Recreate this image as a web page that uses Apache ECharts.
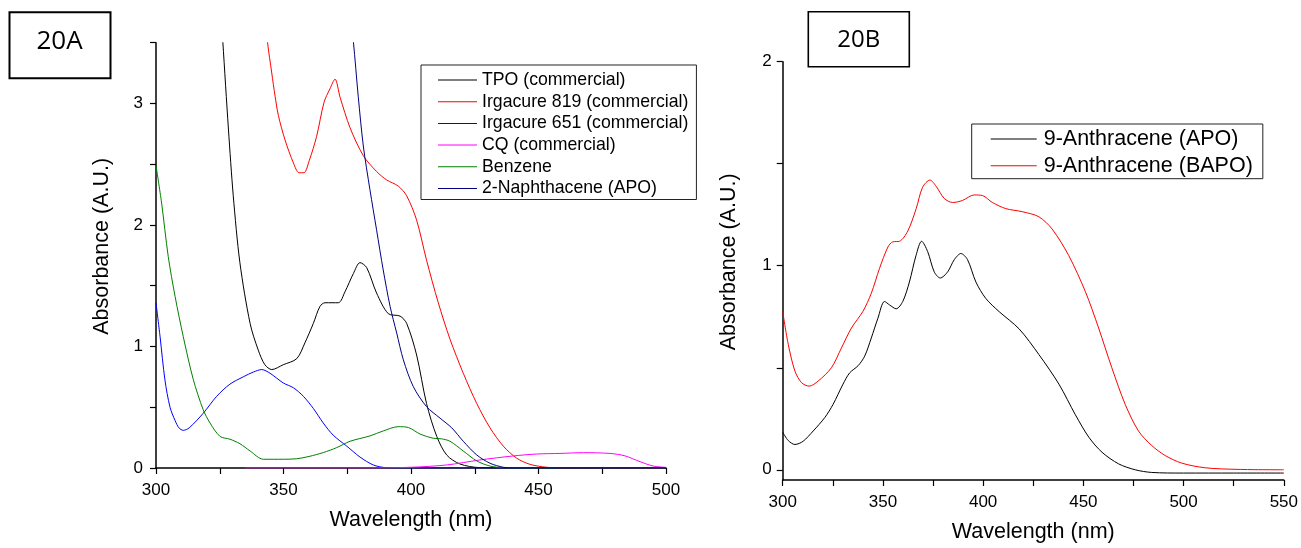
<!DOCTYPE html>
<html>
<head>
<meta charset="utf-8">
<script src="https://cdn.jsdelivr.net/npm/echarts@6/dist/echarts.min.js"></script>
<style>
html,body{margin:0;padding:0;background:#fff;}
#c{width:1301px;height:548px;}
</style>
</head>
<body>
<div id="c"></div>
<script>
// ---------- Panel 20A data ----------
const tpoX = [318, 322, 326.2, 328.4, 330.3, 332.9, 336.9, 340.1, 342.7, 345.4, 349.9, 355.2, 358.4, 361.7, 364.3, 366.3, 371.5, 374.1, 377.4, 380, 382.6, 386.5, 391.1, 395.7, 398.3, 402.2, 406.1, 410.1, 414, 419.2, 427, 440, 460, 500];
const tpoY = [6.2, 4.9, 3.51, 2.79, 2.24, 1.69, 1.19, 0.97, 0.85, 0.81, 0.85, 0.90, 1.03, 1.19, 1.33, 1.36, 1.36, 1.45, 1.60, 1.69, 1.65, 1.44, 1.27, 1.25, 1.19, 0.93, 0.53, 0.26, 0.107, 0.033, 0.003, 0, 0, 0];

const irg819X = [338, 341, 343.7, 345.4, 346.7, 348, 350.6, 353.9, 356.1, 358, 360.1, 363, 365.9, 368.2, 370.2, 372.2, 376.1, 381.3, 386.5, 390.5, 395, 398.3, 402.2, 406.1, 410.7, 415.3, 420.5, 425.8, 431, 436.2, 441.5, 446.7, 453.2, 460, 480, 500];
const irg819Y = [5.0, 4.1, 3.51, 3.25, 3.06, 2.90, 2.70, 2.51, 2.43, 2.43, 2.53, 2.73, 3.01, 3.12, 3.20, 3.05, 2.80, 2.57, 2.44, 2.37, 2.32, 2.24, 2.04, 1.71, 1.36, 1.06, 0.78, 0.53, 0.33, 0.18, 0.08, 0.03, 0.006, 0, 0, 0];

const irg651X = [300, 301.6, 303.5, 305.5, 307.5, 309, 310.7, 313, 318.5, 323.8, 329, 334.2, 338.2, 341.5, 344.7, 349.9, 353.9, 357.8, 361.7, 365.6, 369.5, 374.8, 380, 385.2, 390, 395, 450, 500];
const irg651Y = [1.36, 1.08, 0.725, 0.50, 0.39, 0.33, 0.31, 0.33, 0.45, 0.59, 0.69, 0.75, 0.79, 0.81, 0.78, 0.70, 0.66, 0.59, 0.49, 0.37, 0.27, 0.18, 0.09, 0.025, 0.003, 0, 0, 0];

const cqX = [335, 380, 400, 414, 427, 440, 449.3, 458.4, 467.6, 478, 483.9, 489.8, 495, 500];
const cqY = [0, 0, 0.006, 0.025, 0.066, 0.099, 0.115, 0.12, 0.126, 0.12, 0.10, 0.052, 0.016, 0.005];

const benzeneX = [300, 302.2, 304.8, 307.5, 310.7, 314.6, 318.5, 321.2, 325.1, 329, 332.9, 336.9, 342.1, 349.9, 355.2, 360, 365.6, 370.9, 376.1, 383.9, 389.1, 395, 399, 403.5, 408.7, 412, 415.3, 420.5, 425.8, 431, 436, 450, 500];
const benzeneY = [2.49, 2.18, 1.74, 1.41, 1.08, 0.73, 0.48, 0.37, 0.26, 0.237, 0.20, 0.14, 0.072, 0.072, 0.076, 0.095, 0.127, 0.168, 0.22, 0.264, 0.305, 0.34, 0.333, 0.28, 0.245, 0.24, 0.22, 0.14, 0.058, 0.016, 0.003, 0, 0];

const naphX = [372, 377.4, 379.3, 381.3, 383.9, 386.5, 389.1, 391.8, 394.4, 397, 400.9, 406.1, 411.4, 416, 420.5, 425.8, 431, 436.2, 440, 500];
const naphY = [4.6, 3.51, 3.06, 2.65, 2.29, 1.96, 1.63, 1.33, 1.11, 0.89, 0.67, 0.505, 0.41, 0.33, 0.22, 0.107, 0.039, 0.006, 0, 0];

// ---------- Panel 20B data ----------
const apoX = [300, 302.8, 306.1, 310.2, 315.2, 321, 325.1, 330.1, 333.4, 337.6, 340.9, 344.2, 347.5, 350.8, 353.3, 356.6, 359.9, 363.2, 366.5, 369.3, 372.3, 375.6, 378.6, 382.3, 385.6, 388.9, 392.2, 396.4, 401.3, 408, 418, 427.8, 437.8, 446, 452.7, 459.3, 467.6, 475.9, 484.1, 500, 525, 550];
const apoY = [0.184, 0.143, 0.124, 0.14, 0.19, 0.256, 0.32, 0.42, 0.475, 0.51, 0.557, 0.646, 0.743, 0.825, 0.808, 0.789, 0.825, 0.92, 1.05, 1.12, 1.07, 0.97, 0.94, 0.97, 1.03, 1.06, 1.03, 0.92, 0.84, 0.775, 0.69, 0.565, 0.42, 0.27, 0.16, 0.086, 0.029, 0, -0.013, -0.016, -0.016, -0.016];

const bapoX = [300, 302.8, 306.1, 309.4, 313.2, 317.7, 324.3, 329.3, 334.3, 340, 344.2, 348.3, 352.5, 354.9, 358.3, 362.4, 366.6, 369.8, 373.5, 376.5, 380.6, 384.8, 389.7, 395.5, 399.7, 404.6, 411.3, 419.5, 427.8, 434.4, 442.7, 451, 457.6, 464.2, 470.9, 477.5, 484.1, 490.8, 499, 510.6, 527.2, 550];
const bapoY = [0.776, 0.613, 0.484, 0.427, 0.41, 0.435, 0.50, 0.597, 0.695, 0.776, 0.865, 0.987, 1.092, 1.117, 1.12, 1.17, 1.28, 1.385, 1.42, 1.39, 1.33, 1.31, 1.32, 1.347, 1.344, 1.31, 1.28, 1.265, 1.24, 1.18, 1.05, 0.873, 0.695, 0.50, 0.32, 0.19, 0.119, 0.07, 0.033, 0.01, 0.002, 0.0];

// ---------- Ticks ----------
const xLabelsA = [300, 350, 400, 450, 500];
const yTicksA = [0, 0.5, 1, 1.5, 2, 2.5, 3, 3.5];
const yLabelsA = [0, 1, 2, 3];
const xLabelsB = [300, 350, 400, 450, 500, 550];
const yTicksB = [0, 0.5, 1, 1.5, 2];
const yLabelsB = [0, 1, 2];

const namesA = ['TPO (commercial)', 'Irgacure 819 (commercial)', 'Irgacure 651 (commercial)', 'CQ (commercial)', 'Benzene', '2-Naphthacene (APO)'];
const namesB = ['9-Anthracene (APO)', '9-Anthracene (BAPO)'];

const zip = (xs, ys) => xs.map((x, i) => [x, ys[i]]);
const FONT = 'Liberation Sans, Arial, sans-serif';

function mkSeries(name, xs, ys, color, idx) {
  return {
    type: 'line', name: name, xAxisIndex: idx, yAxisIndex: idx,
    data: zip(xs, ys), symbol: 'none', smooth: 0.3, clip: true,
    lineStyle: { width: 1, color: color }, itemStyle: { color: color },
    animation: false
  };
}

const axisCommon = {
  axisLine: { show: true, onZero: false, lineStyle: { color: '#000', width: 1.5 } },
  axisTick: { show: true, length: 6, lineStyle: { color: '#000', width: 1.2 } },
  splitLine: { show: false },
  nameTextStyle: { fontFamily: FONT, fontSize: 21.5, color: '#000' }
};

function xAx(idx, min, max, labels) {
  return Object.assign({}, axisCommon, {
    type: 'value', gridIndex: idx, min: min, max: max, interval: 25,
    axisLabel: { customValues: labels, fontFamily: FONT, fontSize: 17, color: '#000', margin: 14 },
    name: 'Wavelength (nm)', nameLocation: 'middle', nameGap: 41
  });
}
function yAx(idx, min, max, ticks, labels, margin) {
  return Object.assign({}, axisCommon, {
    type: 'value', gridIndex: idx, min: min, max: max,
    axisTick: { show: true, length: 6, customValues: ticks, lineStyle: { color: '#000', width: 1.2 } },
    axisLabel: { customValues: labels, fontFamily: FONT, fontSize: 17, color: '#000', margin: margin },
    name: 'Absorbance (A.U.)', nameLocation: 'middle', nameGap: 43,
    nameTextStyle: { fontFamily: FONT, fontSize: 21.5, color: '#000', padding: [0, 0, 0, 18] }
  });
}

const chart = echarts.init(document.getElementById('c'), null, { renderer: 'canvas' });
chart.setOption({
  backgroundColor: '#fff',
  animation: false,
  title: [
    { text: '20A', left: 9, top: 11.7, borderColor: '#000', borderWidth: 2,
      padding: [14.5, 28, 22.5, 27.5],
      textStyle: { fontFamily: 'Open Sans, sans-serif', fontSize: 26, fontWeight: 'normal', color: '#000', lineHeight: 30 } },
    { text: '20B', left: 808.3, top: 11.7, borderColor: '#000', borderWidth: 1.6,
      padding: [14, 29, 13.5, 29],
      textStyle: { fontFamily: 'Open Sans, sans-serif', fontSize: 24, fontWeight: 'normal', color: '#000', lineHeight: 28 } }
  ],
  legend: [
    { data: namesA, orient: 'vertical', left: 421, top: 65, padding: [5, 8, 1, 17],
      icon: 'rect', itemWidth: 39, itemHeight: 1, itemGap: 1.7, borderColor: '#222', borderWidth: 1,
      textStyle: { fontFamily: FONT, fontSize: 17.7, color: '#000', lineHeight: 20 } },
    { data: namesB, orient: 'vertical', left: 971.7, top: 124, padding: [3, 10, 1, 19],
      icon: 'rect', itemWidth: 46, itemHeight: 1, itemGap: 2.7, borderColor: '#222', borderWidth: 1,
      textStyle: { fontFamily: FONT, fontSize: 21.5, color: '#000', lineHeight: 24, padding: [0, 0, 0, 2] } }
  ],
  grid: [
    { left: 156, top: 42.7, width: 510, height: 425.3, containLabel: false },
    { left: 782.7, top: 61.7, width: 503.6, height: 421, containLabel: false }
  ],
  xAxis: [ xAx(0, 300, 500, xLabelsA), xAx(1, 300, 550, xLabelsB) ],
  yAxis: [ yAx(0, 0, 3.5, yTicksA, yLabelsA, 13), yAx(1, -0.05, 2, yTicksB, yLabelsB, 11) ],
  series: [
    mkSeries(namesA[0], tpoX, tpoY, '#000000', 0),
    mkSeries(namesA[1], irg819X, irg819Y, '#ff0000', 0),
    mkSeries(namesA[2], irg651X, irg651Y, '#0000ff', 0),
    mkSeries(namesA[3], cqX, cqY, '#ff00ff', 0),
    mkSeries(namesA[4], benzeneX, benzeneY, '#008000', 0),
    mkSeries(namesA[5], naphX, naphY, '#000080', 0),
    mkSeries(namesB[0], apoX, apoY, '#000000', 1),
    mkSeries(namesB[1], bapoX, bapoY, '#ff0000', 1)
  ]
});
</script>
</body>
</html>
